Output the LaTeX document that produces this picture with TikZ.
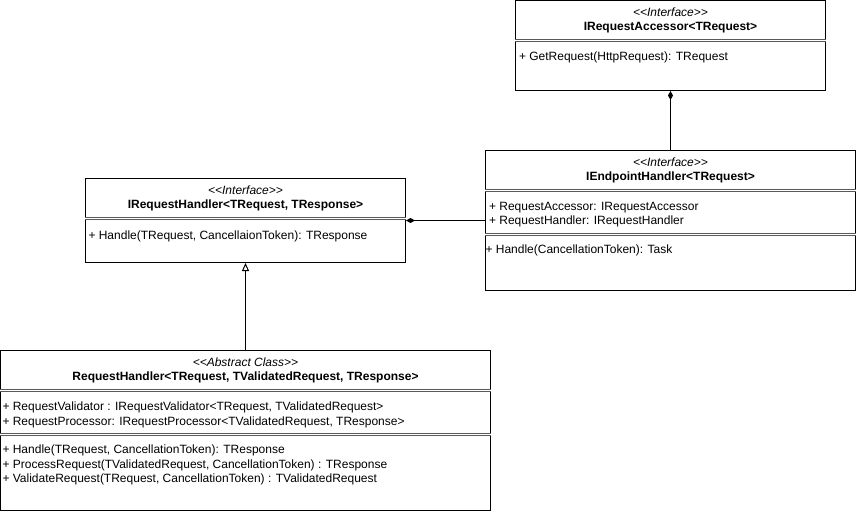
\documentclass[tikz,border=0pt]{standalone}
\usepackage{fontspec}
\setmainfont{Liberation Sans}[Ligatures=TeXOff]
\usetikzlibrary{positioning, arrows.meta}

\begin{document}
\begin{tikzpicture}[x=1pt, y=-1pt, line width=1pt,
    box/.style={draw, inner sep=0pt},
    title/.style={align=center, inner sep=0pt, font=\fontsize{12}{14}\selectfont},
    member/.style={align=left, inner sep=0pt, font=\fontsize{12}{14.4}\selectfont},
    sep/.style={double, double distance=1.2pt, line width=1pt, draw=black!65},
    comp/.style={{Diamond[length=9pt, width=5pt]}-},
    inherit/.style={-{Triangle[open, length=8pt, width=7pt]}}]
\useasboundingbox (0,0) rectangle (856,511);
\node[box, minimum width=310pt, minimum height=90pt] (acc) at (670.5,45.5) {};
\node[box, minimum width=370pt, minimum height=140pt] (endp) at (670.5,220.5) {};
\node[box, minimum width=320pt, minimum height=84pt] (handler) at (245.5,220.5) {};
\node[box, minimum width=490pt, minimum height=160pt] (base) at (245.5,430.5) {};
\draw[sep] ([yshift=-40.5pt]acc.north west) -- ([yshift=-40.5pt]acc.north east);
\draw[sep] ([yshift=-40.5pt]endp.north west) -- ([yshift=-40.5pt]endp.north east);
\draw[sep] ([yshift=-84.5pt]endp.north west) -- ([yshift=-84.5pt]endp.north east);
\draw[sep] ([yshift=-40.5pt]handler.north west) -- ([yshift=-40.5pt]handler.north east);
\draw[sep] ([yshift=-40.5pt]base.north west) -- ([yshift=-40.5pt]base.north east);
\draw[sep] ([yshift=-84.5pt]base.north west) -- ([yshift=-84.5pt]base.north east);
\node[title, below=7.5pt of acc.north] (acctitle)
    {\textit{<<Interface>>}\\\textbf{IRequestAccessor<TRequest>}};
\node[member, below right=51.7pt and 3.5pt of acc.north west] (accops)
    {+ GetRequest(HttpRequest): TRequest};
\node[title, below=7.5pt of endp.north] (endptitle)
    {\textit{<<Interface>>}\\\textbf{IEndpointHandler<TRequest>}};
\node[member, below right=51.7pt and 3.5pt of endp.north west] (endpattr)
    {+ RequestAccessor: IRequestAccessor\\+ RequestHandler: IRequestHandler};
\node[member, below right=94.7pt and 0pt of endp.north west] (endpops)
    {+ Handle(CancellationToken): Task};
\node[title, below=7.5pt of handler.north] (handlertitle)
    {\textit{<<Interface>>}\\\textbf{IRequestHandler<TRequest, TResponse>}};
\node[member, below right=52.7pt and 3pt of handler.north west] (handlerops)
    {+ Handle(TRequest, CancellaionToken): TResponse};
\node[title, below=7.5pt of base.north] (basetitle)
    {\textit{<<Abstract Class>>}\\\textbf{RequestHandler<TRequest, TValidatedRequest, TResponse>}};
\node[member, below right=51.7pt and 2pt of base.north west] (baseattr)
    {+ RequestValidator : IRequestValidator<TRequest, TValidatedRequest>\\
     + RequestProcessor: IRequestProcessor<TValidatedRequest, TResponse>};
\node[member, below right=94.7pt and 2pt of base.north west] (baseops)
    {+ Handle(TRequest, CancellationToken): TResponse\\
     + ProcessRequest(TValidatedRequest, CancellationToken) : TResponse\\
     + ValidateRequest(TRequest, CancellationToken) : TValidatedRequest};
\draw
    (acc.south) edge[comp] (endp.north)
    (handler.east) edge[comp] (endp.west)
    (base.north) edge[inherit] (handler.south);
\end{tikzpicture}
\end{document}
